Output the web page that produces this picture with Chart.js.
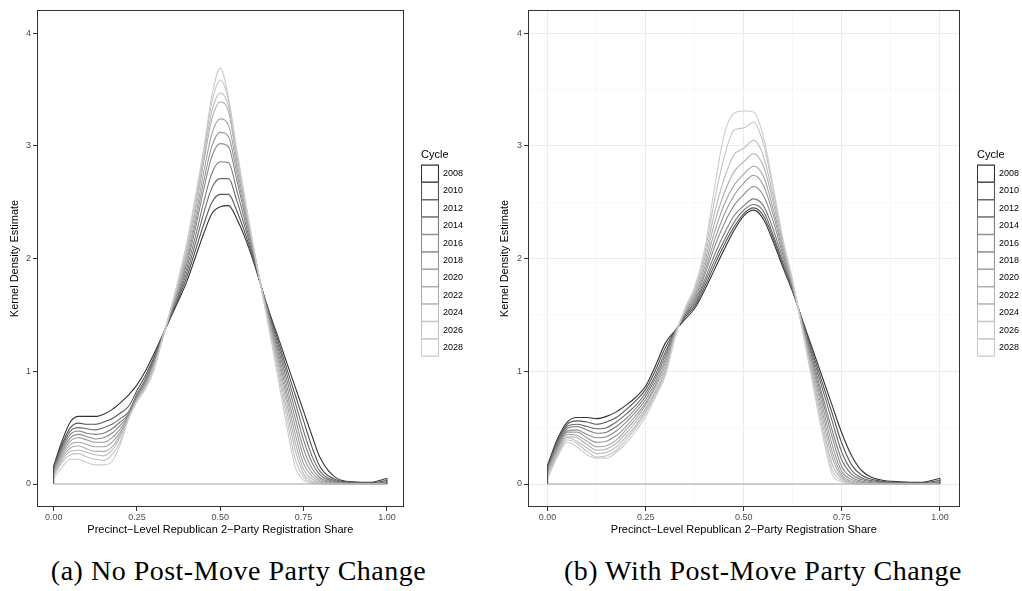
<!DOCTYPE html>
<html>
<head>
<meta charset="utf-8">
<script src="https://cdn.jsdelivr.net/npm/chart.js@4.4.1/dist/chart.umd.min.js"></script>
<style>
  html, body { margin: 0; padding: 0; background: #fff; overflow: hidden; }
  body { width: 1022px; height: 591px; position: relative; }
  canvas { position: absolute; top: 0; }
  #chartA { left: 0; }
  #chartB { left: 490px; }
  .caption { position: absolute; top: 557px; font-family: 'Liberation Serif', 'Times New Roman', serif; font-size: 28px; line-height: 28px; letter-spacing: 0.5px; text-align: center; color: #000; white-space: nowrap; }
</style>
</head>
<body>
<canvas id="chartA" width="473" height="545"></canvas>
<canvas id="chartB" width="539" height="545"></canvas>
<div class="caption" style="left:0;width:477px">(a) No Post-Move Party Change</div>
<div class="caption" style="left:526px;width:474px">(b) With Post-Move Party Change</div>
<script>
const cycles = [2008, 2010, 2012, 2014, 2016, 2018, 2020, 2022, 2024, 2026, 2028];

// registration share grid the densities were read at
const xGrid = [0, 0.025, 0.05, 0.075, 0.1, 0.125, 0.15, 0.175, 0.2, 0.225, 0.25, 0.275, 0.3, 0.325, 0.35, 0.375,
  0.4, 0.425, 0.45, 0.475, 0.5, 0.525, 0.55, 0.575, 0.6, 0.625, 0.65, 0.675, 0.7, 0.725, 0.75, 0.775, 0.8,
  0.85, 0.9, 0.95, 1];

// (a) no post-move party change
const a2008 = [0.16, 0.38, 0.55, 0.60, 0.60, 0.60, 0.62, 0.66, 0.72, 0.79, 0.88, 1.00, 1.15, 1.31, 1.47, 1.63, 1.80, 2.01, 2.22, 2.40, 2.46, 2.47, 2.35, 2.18, 1.97, 1.73, 1.50, 1.29, 1.07, 0.86, 0.645, 0.43, 0.23, 0.05, 0.02, 0.015, 0.05];
const a2010 = [0.15, 0.35, 0.50, 0.54, 0.53, 0.53, 0.55, 0.58, 0.63, 0.69, 0.83, 0.96, 1.12, 1.30, 1.48, 1.65, 1.84, 2.07, 2.30, 2.50, 2.57, 2.57, 2.42, 2.22, 1.99, 1.73, 1.49, 1.255, 1.02, 0.79, 0.56, 0.33, 0.15, 0.035, 0.015, 0.01, 0.03];
const a2012 = [0.14, 0.33, 0.47, 0.50, 0.49, 0.48, 0.50, 0.53, 0.58, 0.64, 0.80, 0.93, 1.10, 1.30, 1.49, 1.67, 1.88, 2.13, 2.40, 2.63, 2.71, 2.71, 2.51, 2.27, 2.01, 1.73, 1.47, 1.22, 0.97, 0.72, 0.47, 0.25, 0.11, 0.025, 0.01, 0.006, 0.015];
const a2014 = [0.13, 0.31, 0.44, 0.47, 0.45, 0.44, 0.45, 0.49, 0.55, 0.62, 0.78, 0.91, 1.08, 1.29, 1.50, 1.69, 1.92, 2.19, 2.50, 2.76, 2.86, 2.85, 2.60, 2.32, 2.03, 1.73, 1.45, 1.185, 0.92, 0.65, 0.39, 0.19, 0.08, 0.018, 0.007, 0.004, 0.008];
const a2016 = [0.12, 0.29, 0.41, 0.44, 0.42, 0.40, 0.41, 0.45, 0.52, 0.61, 0.77, 0.90, 1.07, 1.29, 1.51, 1.71, 1.96, 2.26, 2.61, 2.91, 3.02, 2.99, 2.69, 2.37, 2.05, 1.72, 1.435, 1.15, 0.865, 0.58, 0.31, 0.14, 0.055, 0.012, 0.005, 0.003, 0.005];
const a2018 = [0.11, 0.27, 0.38, 0.41, 0.39, 0.37, 0.37, 0.41, 0.49, 0.60, 0.76, 0.89, 1.06, 1.28, 1.52, 1.73, 1.99, 2.31, 2.68, 3.00, 3.12, 3.08, 2.75, 2.40, 2.06, 1.72, 1.42, 1.115, 0.81, 0.51, 0.24, 0.10, 0.04, 0.008, 0.003, 0.002, 0.003];
const a2020 = [0.10, 0.25, 0.35, 0.37, 0.35, 0.33, 0.33, 0.37, 0.46, 0.60, 0.75, 0.88, 1.05, 1.28, 1.52, 1.75, 2.02, 2.36, 2.76, 3.11, 3.24, 3.18, 2.81, 2.43, 2.07, 1.72, 1.40, 1.08, 0.76, 0.44, 0.18, 0.07, 0.025, 0.005, 0.002, 0.001, 0.002];
const a2022 = [0.09, 0.23, 0.32, 0.34, 0.31, 0.29, 0.29, 0.33, 0.44, 0.59, 0.75, 0.87, 1.04, 1.28, 1.53, 1.77, 2.06, 2.42, 2.85, 3.24, 3.39, 3.30, 2.86, 2.46, 2.08, 1.72, 1.38, 1.045, 0.71, 0.37, 0.13, 0.045, 0.015, 0.003, 0.001, 0, 0.001];
const a2024 = [0.08, 0.21, 0.29, 0.30, 0.28, 0.26, 0.25, 0.30, 0.42, 0.59, 0.74, 0.86, 1.03, 1.27, 1.53, 1.79, 2.09, 2.46, 2.90, 3.31, 3.47, 3.35, 2.90, 2.48, 2.09, 1.71, 1.36, 1.00, 0.645, 0.30, 0.09, 0.025, 0.008, 0.002, 0, 0, 0];
const a2026 = [0.07, 0.19, 0.26, 0.27, 0.24, 0.22, 0.21, 0.26, 0.38, 0.58, 0.74, 0.85, 1.02, 1.27, 1.54, 1.81, 2.12, 2.51, 2.94, 3.39, 3.58, 3.40, 2.93, 2.50, 2.10, 1.71, 1.34, 0.96, 0.58, 0.22, 0.06, 0.012, 0.004, 0.001, 0, 0, 0];
const a2028 = [0.05, 0.15, 0.22, 0.22, 0.19, 0.17, 0.17, 0.20, 0.35, 0.58, 0.73, 0.84, 1.00, 1.27, 1.54, 1.83, 2.15, 2.55, 2.97, 3.45, 3.69, 3.42, 2.96, 2.52, 2.10, 1.70, 1.315, 0.91, 0.50, 0.15, 0.035, 0.008, 0.002, 0, 0, 0, 0];

// (b) with post-move party change
const b2008 = [0.17, 0.40, 0.55, 0.59, 0.59, 0.58, 0.60, 0.64, 0.70, 0.77, 0.87, 1.05, 1.25, 1.36, 1.46, 1.56, 1.72, 1.90, 2.08, 2.25, 2.38, 2.43, 2.35, 2.15, 1.92, 1.70, 1.45, 1.20, 0.95, 0.70, 0.45, 0.25, 0.12, 0.035, 0.02, 0.015, 0.05];
const b2010 = [0.16, 0.38, 0.53, 0.56, 0.55, 0.53, 0.55, 0.59, 0.66, 0.74, 0.84, 1.01, 1.21, 1.36, 1.48, 1.58, 1.75, 1.94, 2.12, 2.28, 2.40, 2.45, 2.38, 2.18, 1.94, 1.71, 1.44, 1.17, 0.90, 0.63, 0.36, 0.17, 0.08, 0.025, 0.015, 0.01, 0.03];
const b2012 = [0.15, 0.36, 0.51, 0.53, 0.51, 0.49, 0.50, 0.55, 0.62, 0.70, 0.81, 0.97, 1.17, 1.35, 1.49, 1.60, 1.78, 1.98, 2.16, 2.32, 2.43, 2.48, 2.42, 2.21, 1.96, 1.72, 1.43, 1.14, 0.85, 0.56, 0.28, 0.12, 0.055, 0.018, 0.01, 0.006, 0.015];
const b2014 = [0.14, 0.34, 0.49, 0.51, 0.48, 0.45, 0.46, 0.51, 0.58, 0.67, 0.78, 0.94, 1.14, 1.35, 1.50, 1.62, 1.81, 2.03, 2.22, 2.38, 2.47, 2.53, 2.47, 2.26, 1.99, 1.73, 1.42, 1.11, 0.79, 0.48, 0.21, 0.085, 0.04, 0.012, 0.007, 0.004, 0.008];
const b2016 = [0.13, 0.33, 0.47, 0.48, 0.44, 0.41, 0.42, 0.47, 0.55, 0.64, 0.75, 0.91, 1.11, 1.34, 1.51, 1.64, 1.85, 2.10, 2.31, 2.47, 2.57, 2.64, 2.56, 2.33, 2.03, 1.74, 1.41, 1.08, 0.75, 0.42, 0.15, 0.06, 0.025, 0.008, 0.005, 0.003, 0.005];
const b2018 = [0.12, 0.31, 0.46, 0.46, 0.41, 0.37, 0.38, 0.43, 0.51, 0.61, 0.72, 0.88, 1.08, 1.34, 1.52, 1.66, 1.88, 2.16, 2.39, 2.56, 2.67, 2.74, 2.65, 2.39, 2.06, 1.75, 1.40, 1.05, 0.70, 0.35, 0.11, 0.04, 0.015, 0.005, 0.003, 0.002, 0.003];
const b2020 = [0.11, 0.30, 0.44, 0.43, 0.38, 0.33, 0.34, 0.39, 0.48, 0.58, 0.70, 0.86, 1.05, 1.33, 1.53, 1.68, 1.92, 2.23, 2.48, 2.65, 2.75, 2.82, 2.73, 2.44, 2.09, 1.76, 1.39, 1.02, 0.65, 0.29, 0.08, 0.025, 0.01, 0.003, 0.002, 0.001, 0.002];
const b2022 = [0.10, 0.28, 0.42, 0.41, 0.35, 0.30, 0.31, 0.36, 0.45, 0.55, 0.67, 0.83, 1.02, 1.33, 1.54, 1.70, 1.96, 2.31, 2.58, 2.77, 2.86, 2.93, 2.82, 2.50, 2.12, 1.77, 1.38, 0.99, 0.60, 0.24, 0.06, 0.015, 0.006, 0.002, 0.001, 0, 0.001];
const b2024 = [0.09, 0.27, 0.41, 0.38, 0.32, 0.27, 0.28, 0.33, 0.42, 0.52, 0.65, 0.81, 1.00, 1.32, 1.54, 1.71, 2.00, 2.40, 2.71, 2.92, 2.98, 3.05, 2.91, 2.55, 2.14, 1.78, 1.37, 0.96, 0.55, 0.18, 0.045, 0.01, 0.004, 0.001, 0, 0, 0];
const b2026 = [0.07, 0.25, 0.39, 0.36, 0.29, 0.24, 0.25, 0.30, 0.39, 0.50, 0.63, 0.79, 0.98, 1.31, 1.55, 1.73, 2.04, 2.51, 2.90, 3.14, 3.16, 3.21, 3.02, 2.61, 2.16, 1.79, 1.36, 0.93, 0.50, 0.13, 0.03, 0.006, 0.002, 0, 0, 0, 0];
const b2028 = [0.05, 0.24, 0.37, 0.33, 0.26, 0.23, 0.23, 0.28, 0.36, 0.47, 0.60, 0.77, 0.96, 1.30, 1.56, 1.75, 2.08, 2.62, 3.10, 3.29, 3.31, 3.30, 3.08, 2.64, 2.17, 1.80, 1.35, 0.90, 0.45, 0.09, 0.02, 0.004, 0.001, 0, 0, 0, 0];

const seriesA = [a2008, a2010, a2012, a2014, a2016, a2018, a2020, a2022, a2024, a2026, a2028];
const seriesB = [b2008, b2010, b2012, b2014, b2016, b2018, b2020, b2022, b2024, b2026, b2028];

// grey ramp like ggplot's scale_colour_grey(start = 0.2, end = 0.8)
const lo = Math.pow(0.2, 2.2), hi = Math.pow(0.8, 2.2);
const greys = cycles.map((c, k) => {
  const g = Math.round(255 * Math.pow(lo + (hi - lo) * k / (cycles.length - 1), 1 / 2.2));
  return 'rgb(' + g + ',' + g + ',' + g + ')';
});

Chart.defaults.font.family = "'Liberation Sans', Arial, sans-serif";

const majorX = v => Math.abs(v * 4 - Math.round(v * 4)) < 1e-6;
const majorY = v => Math.abs(v - Math.round(v)) < 1e-6;

const panelBox = {
  id: 'panelBox',
  afterDraw(chart) {
    const { ctx, chartArea: a } = chart;
    ctx.save();
    ctx.strokeStyle = '#333333';
    ctx.lineWidth = 1;
    ctx.strokeRect(Math.round(a.left) + 0.5, Math.round(a.top) + 0.5,
      Math.round(a.right - a.left) - 1, Math.round(a.bottom - a.top) - 1);
    ctx.restore();
  }
};

function gridOpts(showGrid, isMajor) {
  return {
    display: true,
    drawOnChartArea: showGrid,
    drawTicks: true,
    tickLength: 4,
    tickWidth: 1,
    tickColor: c => (c.tick && isMajor(c.tick.value)) ? '#333333' : 'rgba(0,0,0,0)',
    color: c => (c.tick && isMajor(c.tick.value)) ? '#ebebeb' : '#f4f4f4',
    lineWidth: c => (c.tick && isMajor(c.tick.value)) ? 1 : 0.6
  };
}

function makeChart(id, series, showGrid, yAxisW) {
  const datasets = series.map((vals, k) => ({
    label: String(cycles[k]),
    data: vals.map((v, i) => ({ x: xGrid[i], y: v })),
    borderColor: greys[k],
    backgroundColor: '#ffffff',
    borderWidth: 1.1,
    pointRadius: 0,
    cubicInterpolationMode: 'monotone',
    fill: false,
    order: series.length - k
  }));
  // closing edges and baseline of the density polygons
  const first = series[0];
  datasets.push({
    label: 'edge',
    data: [
      { x: xGrid[0], y: first[0] }, { x: xGrid[0], y: 0 },
      { x: xGrid[xGrid.length - 1], y: 0 }, { x: xGrid[xGrid.length - 1], y: first[first.length - 1] }
    ],
    borderColor: '#444444',
    segment: { borderColor: c => c.p0DataIndex === 1 ? '#a6a6a6' : '#444444' },
    borderWidth: 1.1,
    pointRadius: 0,
    tension: 0,
    fill: false,
    order: 0
  });

  return new Chart(document.getElementById(id), {
    type: 'line',
    data: { datasets: datasets },
    plugins: [panelBox],
    options: {
      responsive: false,
      animation: false,
      devicePixelRatio: 1,
      layout: { padding: { top: 10, left: 0, right: 0, bottom: 0 } },
      plugins: {
        tooltip: { enabled: false },
        legend: {
          position: 'right',
          fullSize: false,
          align: 'center',
          title: {
            display: true, text: 'Cycle', color: '#000', position: 'start',
            font: { size: 11 }, padding: { top: -11, bottom: 2 }
          },
          labels: {
            boxWidth: 17,
            boxHeight: 17,
            padding: 0.4,
            color: '#000',
            font: { size: 9 },
            filter: item => item.datasetIndex < cycles.length,
            sort: (p, q) => p.datasetIndex - q.datasetIndex
          }
        }
      },
      scales: {
        x: {
          type: 'linear',
          min: -0.05,
          max: 1.05,
          afterFit: s => { s.height = 38; },
          border: { display: false },
          grid: gridOpts(showGrid, majorX),
          ticks: {
            stepSize: showGrid ? 0.125 : 0.25,
            includeBounds: false,
            autoSkip: false,
            maxRotation: 0,
            padding: 1,
            color: '#4d4d4d',
            font: { size: 9 },
            callback: v => majorX(v) ? v.toFixed(2) : ''
          },
          title: {
            display: true,
            text: 'Precinct\u2212Level Republican 2\u2212Party Registration Share',
            color: '#000',
            font: { size: 11 },
            padding: { top: 0, bottom: 8 }
          }
        },
        y: {
          type: 'linear',
          min: -0.204,
          max: 4.206,
          afterFit: s => { s.width = yAxisW; },
          border: { display: false },
          grid: gridOpts(showGrid, majorY),
          ticks: {
            stepSize: showGrid ? 0.5 : 1,
            includeBounds: false,
            autoSkip: false,
            padding: 2,
            color: '#4d4d4d',
            font: { size: 9 },
            callback: v => majorY(v) ? String(Math.round(v)) : ''
          },
          title: {
            display: true,
            text: 'Kernel Density Estimate',
            color: '#000',
            font: { size: 11 },
            padding: { top: 8, bottom: 0 }
          }
        },
        gap: {
          type: 'linear',
          position: 'right',
          display: true,
          grid: { display: false },
          border: { display: false },
          ticks: { display: false },
          afterFit: s => { s.width = 17.5; }
        }
      }
    }
  });
}

makeChart('chartA', seriesA, false, 37);
makeChart('chartB', seriesB, true, 38);
</script>
</body>
</html>
